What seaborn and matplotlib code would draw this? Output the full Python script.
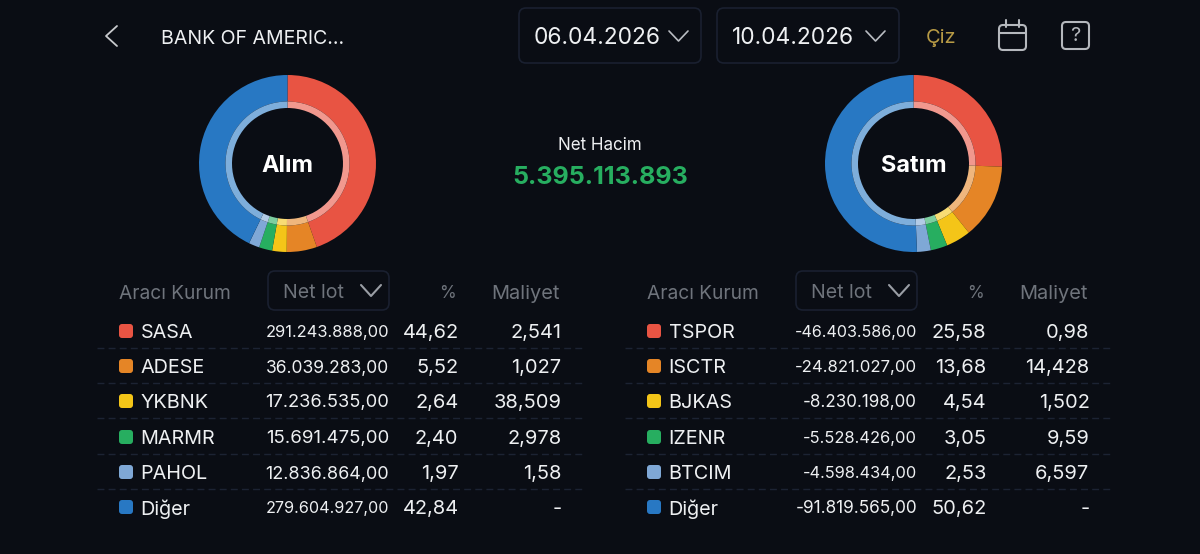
import matplotlib
matplotlib.use("Agg")
import matplotlib.pyplot as plt
import seaborn as sns
from matplotlib.patches import FancyBboxPatch

BG = "#0a0d14"
BORDER = "#1a2030"
GREY = "#6f747c"
TEXT = "#eef0f2"

sns.set_theme(style="dark", rc={"figure.facecolor": BG, "savefig.facecolor": BG})
plt.rcParams["font.family"] = ["Inter", "DejaVu Sans"]

colors = ["#e85443", "#e58526", "#f4c518", "#27ae60", "#7fa8d6", "#2878c3"]
palette = sns.color_palette(colors)
ring_palette = [tuple(c * 0.6 + 0.4 for c in col) for col in palette]

buy_names = ["SASA", "ADESE", "YKBNK", "MARMR", "PAHOL", "Diğer"]
buy_lots = ["291.243.888,00", "36.039.283,00", "17.236.535,00", "15.691.475,00", "12.836.864,00", "279.604.927,00"]
buy_pct = [44.62, 5.52, 2.64, 2.40, 1.97, 42.84]
buy_cost = ["2,541", "1,027", "38,509", "2,978", "1,58", "-"]

sell_names = ["TSPOR", "ISCTR", "BJKAS", "IZENR", "BTCIM", "Diğer"]
sell_lots = ["-46.403.586,00", "-24.821.027,00", "-8.230.198,00", "-5.528.426,00", "-4.598.434,00", "-91.819.565,00"]
sell_pct = [25.58, 13.68, 4.54, 3.05, 2.53, 50.62]
sell_cost = ["0,98", "14,428", "1,502", "9,59", "6,597", "-"]

row_y = [331, 366, 401, 437, 472, 507]
W, H = 1200, 554


def px(size):
    # font size given in image pixels
    return size * 0.72


fig = plt.figure(figsize=(12, 5.54), dpi=100)
bg = fig.add_axes([0, 0, 1, 1])
bg.set_xlim(0, W)
bg.set_ylim(H, 0)
bg.axis("off")


def rounded_box(x0, y0, x1, y1, r=7, ec=BORDER, lw=1.2, fc="none"):
    bg.add_patch(FancyBboxPatch((x0 + r, y0 + r), x1 - x0 - 2 * r, y1 - y0 - 2 * r,
                                boxstyle=f"round,pad={r},rounding_size={r}",
                                ec=ec, fc=fc, lw=lw))


def chevron(x0, x1, y0, y1, color="#b9bcc2", lw=1.2):
    bg.plot([x0, (x0 + x1) / 2, x1], [y0, y1, y0], color=color, lw=lw, solid_capstyle="round")


def fit_width(t, target):
    # the app squeezes lot values to the column, so scale the font to the same width
    width = t.get_window_extent(fig.canvas.get_renderer()).width
    t.set_fontsize(t.get_fontsize() * target / width)


def donut(cx, cy, values, label):
    r = 88.5
    ax = fig.add_axes([(cx - r) / W, 1 - (cy + r) / H, 2 * r / W, 2 * r / H])
    ax.pie(values, colors=palette, startangle=90, counterclock=False, radius=1,
           wedgeprops={"width": 1 - 62 / r, "linewidth": 0})
    ax.pie(values, colors=ring_palette, startangle=90, counterclock=False, radius=62 / r,
           wedgeprops={"width": 6.5 / r, "linewidth": 0})
    ax.set_xlim(-1, 1)
    ax.set_ylim(-1, 1)
    ax.text(0, -0.025, label, color="white", ha="center", va="center",
            fontsize=px(23.5), fontweight="bold")


def table(dx, names, lots, pct, cost):
    bg.text(119 + dx, 294, "Aracı Kurum", color=GREY, fontsize=px(19.2), va="center")
    rounded_box(268 + dx, 271, 389 + dx, 310)
    bg.text(283 + dx, 293, "Net lot", color=GREY, fontsize=px(19.5), va="center")
    chevron(361 + dx, 381 + dx, 285, 296, color="#9a9ea5", lw=1.5)
    bg.text(456 + dx, 294, "%", color=GREY, fontsize=px(17), va="center", ha="right")
    bg.text(560 + dx, 294, "Maliyet", color=GREY, fontsize=px(20), va="center", ha="right")
    for i, y in enumerate(row_y):
        rounded_box(119 + dx, y - 7, 133 + dx, y + 7, r=3, ec="none", lw=0, fc=palette[i])
        bg.text(140.5 + dx, y, names[i], color=TEXT, fontsize=px(19.8), va="center_baseline")
        t = bg.text(389 + dx, y, lots[i], color=TEXT, fontsize=px(18), va="center_baseline", ha="right")
        if lots[i].startswith("-"):
            fit_width(t, 122 if len(lots[i]) >= 14 else 114)
        else:
            fit_width(t, 123.5)
        bg.text(458.5 + dx, y, f"{pct[i]:.2f}".replace(".", ","), color=TEXT, fontsize=px(20),
                va="center_baseline", ha="right")
        bg.text(561.5 + dx, y, cost[i], color=TEXT, fontsize=px(20), va="center_baseline", ha="right")
        if i < 5:
            bg.plot([97 + dx, 583 + dx], [y + 16.5, y + 16.5], color="#1c2333", lw=1,
                    linestyle=(0, (5, 3)))


# top bar
bg.plot([117, 106, 117], [26, 36, 46], color="#c8cacd", lw=1.3)
bg.text(161, 39, "BANK OF AMERIC...", color=TEXT, fontsize=px(19.5), va="center")
rounded_box(519, 8, 701, 63)
rounded_box(717, 8, 899, 63)
bg.text(534, 38, "06.04.2026", color=TEXT, fontsize=px(22.8), va="center")
bg.text(732, 38, "10.04.2026", color=TEXT, fontsize=px(22.8), va="center")
chevron(669, 688, 31, 41)
chevron(866, 885, 31, 41)
bg.text(926, 38, "Çiz", color="#b79a45", fontsize=px(20), va="center")

# calendar icon
rounded_box(999, 25, 1026, 50, r=4, ec="#b5b8bd", lw=1.5)
bg.plot([999, 1026], [33, 33], color="#b5b8bd", lw=1.5)
bg.plot([1006, 1006], [20, 27], color="#b5b8bd", lw=1.5)
bg.plot([1019, 1019], [20, 27], color="#b5b8bd", lw=1.5)

# help icon
rounded_box(1062, 22, 1089, 49, r=4, ec="#b5b8bd", lw=1.5)
bg.text(1075.5, 36, "?", color="#b5b8bd", fontsize=px(20), ha="center", va="center")

# centre figures
bg.text(600, 146, "Net Hacim", color=TEXT, fontsize=px(17), ha="center", va="center")
bg.text(600, 177, "5.395.113.893", color="#27ae60", fontsize=px(25), fontweight="bold",
        ha="center", va="center")

donut(287.5, 163.5, buy_pct, "Alım")
donut(913.5, 163.5, sell_pct, "Satım")

table(0, buy_names, buy_lots, buy_pct, buy_cost)
table(528, sell_names, sell_lots, sell_pct, sell_cost)

fig.savefig("out.png", dpi=100)
